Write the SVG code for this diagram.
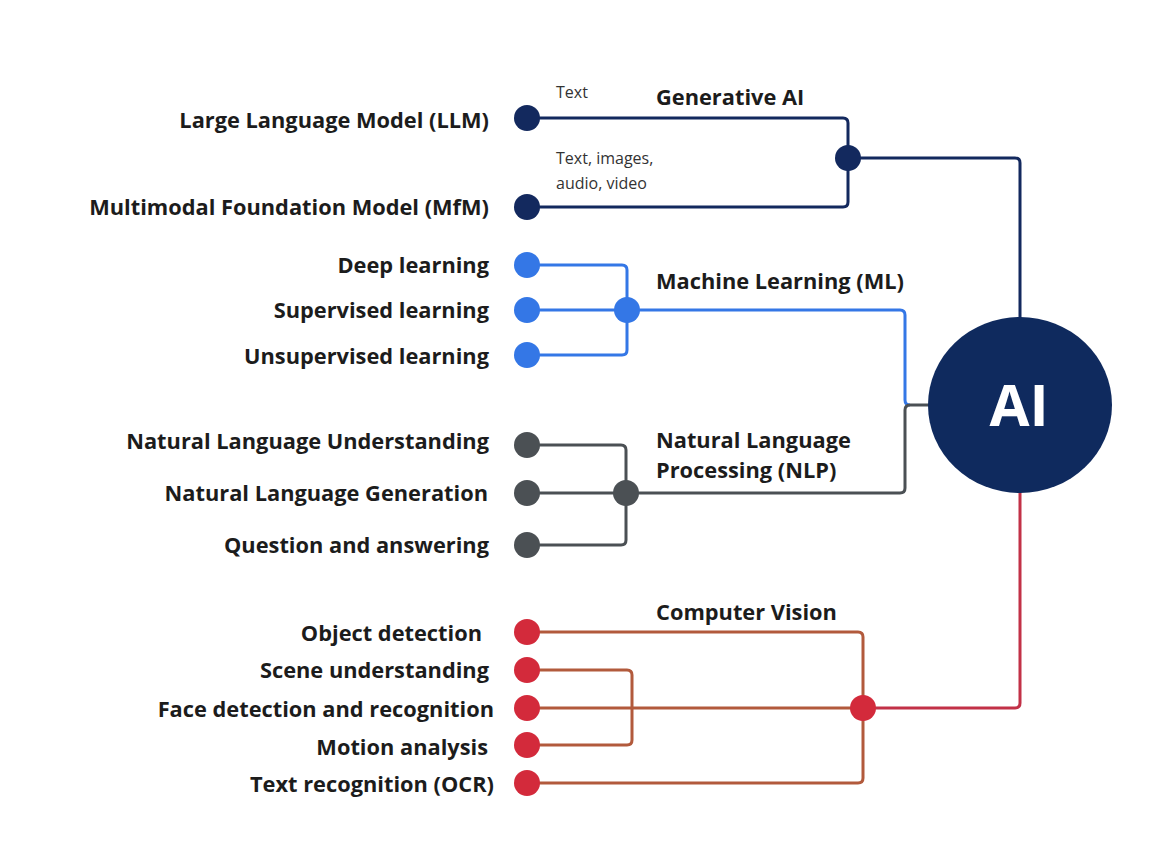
<svg xmlns="http://www.w3.org/2000/svg" width="1170" height="846" viewBox="0 0 1170 846">
<style>
.lbl{font-family:"Open Sans","Liberation Sans",sans-serif;font-weight:700;font-size:21.8px;fill:#1c1c1c;text-anchor:end}
.hd{font-family:"Open Sans","Liberation Sans",sans-serif;font-weight:700;font-size:21.8px;fill:#1c1c1c}
.sm{font-family:"Open Sans","Liberation Sans",sans-serif;font-weight:400;font-size:16px;fill:#333}
.ln{fill:none;stroke-width:3;stroke-linejoin:round}
.navy{stroke:#13295e}
.blue{stroke:#3477e6}
.gray{stroke:#4b5054}
.brown{stroke:#b25a3c}
.crim{stroke:#c23147}
</style>
<rect width="1170" height="846" fill="#ffffff"/>
<g id="connectors">
<path class="ln navy" d="M527 118 H843 Q848 118 848 123 V202 Q848 207 843 207 H527"/>
<path class="ln navy" d="M848 158 H1015 Q1020 158 1020 163 V320"/>
<path class="ln blue" d="M527 265 H622 Q627 265 627 270 V350 Q627 355 622 355 H527"/>
<path class="ln blue" d="M527 310 H900 Q905 310 905 315 V400 Q905 405 910 405"/>
<path class="ln gray" d="M527 445 H621 Q626 445 626 450 V540 Q626 545 621 545 H527"/>
<path class="ln gray" d="M527 493 H900 Q905 493 905 488 V410 Q905 405 910 405 H930"/>
<path class="ln brown" d="M527 632 H858 Q863 632 863 637 V778 Q863 783 858 783 H527"/>
<path class="ln brown" d="M527 670 H627 Q632 670 632 675 V740 Q632 745 627 745 H527"/>
<path class="ln brown" d="M527 708 H863"/>
<path class="ln crim" d="M863 708 H1015 Q1020 708 1020 703 V490"/>
</g>
<g id="ai">
<ellipse cx="1020" cy="405" rx="92" ry="88" fill="#0f2a5e"/>
<text x="1019" y="426" font-family="Open Sans, Liberation Sans, sans-serif" font-weight="700" font-size="58" fill="#ffffff" text-anchor="middle">AI</text>
</g>
<g id="generative-ai">
<text class="hd" x="656" y="105">Generative AI</text>
<circle cx="848" cy="158" r="13" fill="#13295e"/>
</g>
<g id="llm">
<circle cx="527" cy="118" r="13" fill="#13295e"/>
<text class="lbl" x="489" y="128">Large Language Model (LLM)</text>
<text class="sm" x="556" y="98">Text</text>
</g>
<g id="mfm">
<circle cx="527" cy="207" r="13" fill="#13295e"/>
<text class="lbl" x="489" y="215">Multimodal Foundation Model (MfM)</text>
<text class="sm" x="556" y="164">Text, images,</text>
<text class="sm" x="556" y="189">audio, video</text>
</g>
<g id="ml">
<text class="hd" x="656" y="289">Machine Learning (ML)</text>
<circle cx="627" cy="310" r="13" fill="#3477e6"/>
</g>
<g id="deep-learning"><circle cx="527" cy="265" r="13" fill="#3477e6"/><text class="lbl" x="489" y="273">Deep learning</text></g>
<g id="supervised"><circle cx="527" cy="310" r="13" fill="#3477e6"/><text class="lbl" x="489" y="318">Supervised learning</text></g>
<g id="unsupervised"><circle cx="527" cy="355" r="13" fill="#3477e6"/><text class="lbl" x="489" y="364">Unsupervised learning</text></g>
<g id="nlp">
<text class="hd" x="656" y="448">Natural Language</text>
<text class="hd" x="656" y="478">Processing (NLP)</text>
<circle cx="626" cy="493" r="13" fill="#4b5054"/>
</g>
<g id="nlu"><circle cx="527" cy="445" r="13" fill="#4b5054"/><text class="lbl" x="489" y="449">Natural Language Understanding</text></g>
<g id="nlg"><circle cx="527" cy="493" r="13" fill="#4b5054"/><text class="lbl" x="488" y="501">Natural Language Generation</text></g>
<g id="qa"><circle cx="527" cy="545" r="13" fill="#4b5054"/><text class="lbl" x="489" y="553">Question and answering</text></g>
<g id="cv">
<text class="hd" x="656" y="620">Computer Vision</text>
<circle cx="863" cy="708" r="13" fill="#d32a3b"/>
</g>
<g id="object-detection"><circle cx="527" cy="632" r="13" fill="#d32a3b"/><text class="lbl" x="482" y="641">Object detection</text></g>
<g id="scene"><circle cx="527" cy="670" r="13" fill="#d32a3b"/><text class="lbl" x="489" y="678">Scene understanding</text></g>
<g id="face"><circle cx="527" cy="708" r="13" fill="#d32a3b"/><text class="lbl" x="494" y="717">Face detection and recognition</text></g>
<g id="motion"><circle cx="527" cy="745" r="13" fill="#d32a3b"/><text class="lbl" x="488" y="755">Motion analysis</text></g>
<g id="ocr"><circle cx="527" cy="783" r="13" fill="#d32a3b"/><text class="lbl" x="494" y="792">Text recognition (OCR)</text></g>
</svg>
